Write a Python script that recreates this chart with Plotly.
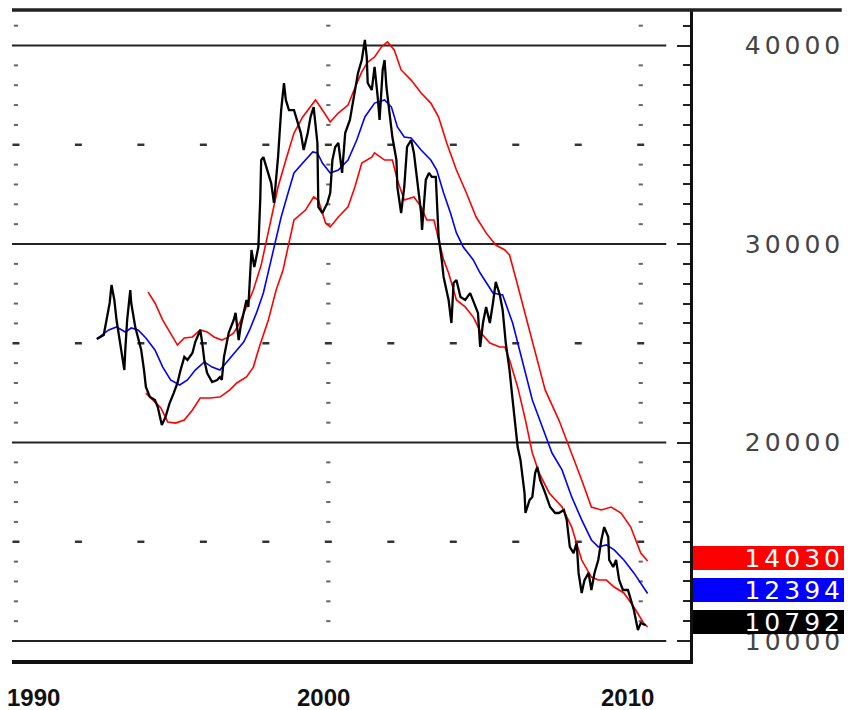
import plotly.graph_objects as go

# ---------------- data ----------------
price_years = [1992.59,1992.81,1992.90,1993.00,1993.06,1993.15,1993.22,1993.34,1993.38,1993.47,
               1993.50,1993.56,1993.66,1993.69,1993.82,1993.91,1994.01,1994.10,1994.16,1994.29,
               1994.45,1994.54,1994.67,1994.79,1994.92,1995.05,1995.17,1995.27,1995.39,1995.49,
               1995.65,1995.74,1995.90,1995.96,1996.03,1996.12,1996.28,1996.44,1996.53,1996.59,
               1996.66,1996.81,1996.97,1997.03,1997.13,1997.19,1997.29,1997.38,1997.44,1997.48,
               1997.54,1997.63,1997.76,1997.82,1997.85,1997.92,1998.08,1998.17,1998.26,1998.39,
               1998.49,1998.58,1998.64,1998.74,1998.90,1999.02,1999.12,1999.21,1999.34,1999.43,
               1999.53,1999.65,1999.68,1999.81,1999.97,2000.06,2000.13,2000.22,2000.32,2000.44,
               2000.54,2000.69,2000.85,2000.95,2001.07,2001.17,2001.23,2001.26,2001.39,2001.48,
               2001.58,2001.64,2001.74,2001.80,2001.86,2001.96,2002.05,2002.18,2002.21,2002.33,
               2002.43,2002.52,2002.65,2002.74,2002.84,2002.97,2003.00,2003.12,2003.22,2003.31,
               2003.44,2003.47,2003.53,2003.63,2003.69,2003.85,2003.94,2004.01,2004.10,2004.23,
               2004.38,2004.54,2004.70,2004.79,2004.86,2004.95,2005.05,2005.17,2005.27,2005.36,
               2005.49,2005.58,2005.68,2005.80,2005.90,2005.99,2006.06,2006.15,2006.28,2006.31,
               2006.44,2006.53,2006.62,2006.69,2006.78,2006.94,2007.10,2007.26,2007.38,2007.54,
               2007.63,2007.73,2007.85,2007.95,2008.01,2008.11,2008.20,2008.33,2008.42,2008.52,
               2008.64,2008.74,2008.83,2008.96,2008.99,2009.12,2009.21,2009.31,2009.43,2009.59,
               2009.68,2009.78,2009.91,2010.00,2010.16]
price_values = [25220,25420,26170,27030,27940,27180,26170,25010,24410,23650,
                24660,26170,27680,27030,25820,25320,24660,23650,22800,22290,
                22140,21790,20880,21290,21990,22490,23000,23650,24310,24160,
                24510,25060,25670,25060,24160,23500,23050,23150,23300,23150,
                24310,25520,26170,26530,25160,25820,26530,27180,26830,28190,
                29700,28840,29850,32220,34230,34380,33580,33070,32070,34380,
                36750,38110,37260,36750,36750,36100,35590,34740,35590,36400,
                36900,35090,31870,31560,32070,32570,34230,34890,35090,33580,
                35590,36250,37610,38620,39270,40280,39420,38110,37760,38920,
                37410,36250,38770,39270,37910,36400,35390,34230,32870,31560,
                32870,34890,35240,34590,33380,31560,30710,33230,33580,33380,
                33380,32070,30350,29200,28340,27180,26020,28040,28190,27330,
                27180,27530,26830,26530,24810,26020,26830,26020,27030,28090,
                27430,26680,25010,23650,22140,20780,19770,19120,17460,16450,
                17100,17260,18460,18770,18110,17460,16750,16450,16450,16600,
                16100,14740,14430,14940,13430,12420,13070,13430,12570,13430,
                14080,15090,15740,15240,14080,13730,14080,13070,12570,12570,
                12070,11560,10550,10910,10792]

ma_years = [1992.59,1992.97,1993.22,1993.50,1993.69,1993.91,1994.16,1994.45,1994.70,1994.95,
            1995.24,1995.49,1995.74,1996.03,1996.28,1996.53,1996.75,1997.00,1997.29,1997.48,
            1997.70,1997.92,1998.08,1998.26,1998.49,1998.71,1998.90,1999.18,1999.50,1999.65,
            1999.81,2000.06,2000.32,2000.63,2000.91,2001.17,2001.48,2001.80,2002.02,2002.21,
            2002.43,2002.65,2002.97,2003.28,2003.47,2003.69,2003.91,2004.10,2004.32,2004.64,
            2004.86,2005.27,2005.58,2005.90,2006.21,2006.53,2006.85,2007.16,2007.48,2007.79,
            2008.11,2008.42,2008.64,2008.90,2009.15,2009.46,2009.78,2010.22]
ma_values = [25220,25670,25820,25570,25770,25670,25270,24660,23800,23150,
             22900,23150,23650,24060,23800,23650,24060,24510,25060,25670,
             26530,27530,28590,29850,31360,32570,33580,34080,34640,34590,
             34080,33580,33730,34230,35240,36400,37100,37260,36900,35900,
             35390,35340,34740,34230,33730,32570,31560,30560,29850,29200,
             28540,27530,27430,26020,24160,22140,20780,19470,18620,17260,
             16100,15090,14740,14840,14590,14080,13430,12394]

upper_years = [1994.23,1994.45,1994.70,1994.95,1995.17,1995.39,1995.65,1995.90,1996.12,1996.34,
               1996.59,1996.75,1996.97,1997.16,1997.38,1997.60,1997.85,1998.11,1998.39,1998.64,
               1998.90,1999.18,1999.43,1999.59,1999.81,2000.06,2000.32,2000.63,2000.85,2001.07,
               2001.26,2001.48,2001.70,2001.89,2002.11,2002.33,2002.65,2002.97,2003.28,2003.53,
               2003.79,2004.10,2004.42,2004.73,2005.05,2005.36,2005.65,2005.80,2005.99,2006.21,
               2006.53,2006.94,2007.38,2007.79,2008.11,2008.42,2008.74,2009.05,2009.37,2009.68,
               2010.00,2010.22]
upper_values = [27580,27030,26170,25520,24910,25270,25320,25670,25570,25320,
                25160,25270,25520,26020,26830,27680,28940,30860,32870,34230,
                35590,36400,36900,37260,36750,36150,36600,37000,37860,38670,
                39170,39420,39930,40180,39780,38770,38260,37610,37100,36400,
                35090,33730,32570,31360,30560,29950,29700,29450,28340,27030,
                25010,22650,21130,19470,18110,16750,16600,16750,16450,15740,
                14430,14030]

lower_years = [1994.16,1994.45,1994.64,1994.86,1995.11,1995.39,1995.65,1995.90,1996.21,1996.53,
               1996.85,1997.07,1997.38,1997.60,1997.79,1998.08,1998.33,1998.55,1998.71,1998.90,
               1999.27,1999.53,1999.68,1999.91,2000.06,2000.32,2000.63,2000.85,2001.07,2001.39,
               2001.48,2001.80,2002.05,2002.21,2002.43,2002.74,2002.97,2003.15,2003.38,2003.53,
               2003.69,2003.85,2004.10,2004.38,2004.64,2004.89,2005.17,2005.49,2005.65,2005.80,
               2006.06,2006.31,2006.53,2006.75,2007.07,2007.48,2007.79,2008.11,2008.42,2008.64,
               2008.90,2009.15,2009.46,2009.78,2010.09,2010.22]
lower_values = [22490,22040,21740,21030,20980,21130,21640,22240,22240,22290,
                22650,23000,23300,23800,24810,26170,27680,28690,29850,31210,
                31710,32370,32220,31060,30860,31360,31870,32870,34080,34380,
                34590,34230,34230,33230,32220,32370,31870,31210,31210,30200,
                29200,28540,27180,26830,26320,25520,25010,24810,24810,24160,
                22800,21130,19470,18460,17460,16750,15740,14080,13220,13070,
                13070,12720,12420,11710,10910,10705]

y_tick_values = [10000, 20000, 30000, 40000]
x_label_years = [1990, 2000, 2010]
x_label_text = ["1990", "2000", "2010"]

# ---------------- figure ----------------
X_RANGE = [1989.874, 2011.577]
Y_RANGE = [9043, 41790]
FIG_W = 854
PLOT_W = 688

fig = go.Figure()

# dotted grid decoration
row_x, row_y = [], []
for lvl in [15000, 25000, 35000]:
    for yr in range(1990, 2011, 2):
        row_x.append(yr)
        row_y.append(lvl)
col_x, col_y = [], []
for yr in [1990, 2000, 2010]:
    for v in range(11000, 42000, 1000):
        if v % 5000 != 0:
            col_x.append(yr)
            col_y.append(v)

fig.add_trace(go.Scatter(x=col_x, y=col_y, mode="markers", hoverinfo="skip",
                         marker=dict(symbol="line-ew", size=3, color="#666",
                                     line=dict(width=2, color="#666"))))
fig.add_trace(go.Scatter(x=row_x, y=row_y, mode="markers", hoverinfo="skip",
                         marker=dict(symbol="line-ew", size=5, color="#333",
                                     line=dict(width=2.5, color="#333"))))

fig.add_trace(go.Scatter(x=upper_years, y=upper_values, mode="lines",
                         line=dict(color="#ff0000", width=1.6)))
fig.add_trace(go.Scatter(x=lower_years, y=lower_values, mode="lines",
                         line=dict(color="#ff0000", width=1.6)))
fig.add_trace(go.Scatter(x=ma_years, y=ma_values, mode="lines",
                         line=dict(color="#0000ff", width=1.6)))
fig.add_trace(go.Scatter(x=price_years, y=price_values, mode="lines",
                         line=dict(color="#000000", width=2.3)))

# major horizontal lines
for v in y_tick_values:
    fig.add_shape(type="line", xref="paper", yref="y", x0=0, x1=0.965, y0=v, y1=v,
                  line=dict(color="#222", width=2), layer="below")

# top border spanning the whole width
fig.add_shape(type="line", xref="paper", yref="paper", x0=0,
              x1=(FIG_W - 12) / PLOT_W, y0=1, y1=1,
              line=dict(color="#222", width=3.5))

spaced = "<span style='letter-spacing:4px'>{}</span>"

fig.update_layout(
    width=FIG_W, height=710,
    margin=dict(l=12, r=FIG_W - 700, t=10, b=50),
    paper_bgcolor="white", plot_bgcolor="white",
    showlegend=False,
    xaxis=dict(range=X_RANGE, showgrid=False, zeroline=False, showticklabels=False,
               ticks="", showline=True, linecolor="#111", linewidth=3.5),
    yaxis=dict(range=Y_RANGE, side="right", showgrid=False, zeroline=False,
               showline=True, linecolor="#111", linewidth=2.5,
               tickmode="array", tickvals=y_tick_values,
               ticktext=[spaced.format(v) for v in y_tick_values],
               ticks="inside", ticklen=13, tickwidth=2, tickcolor="#222",
               ticklabelstandoff=47,
               tickfont=dict(family="DejaVu Sans", size=25, color="#444"),
               minor=dict(dtick=1000, ticks="inside", ticklen=7, tickwidth=2,
                          tickcolor="#222")),
)

# year labels
for yr, txt, sh in zip(x_label_years, x_label_text, [18, -5, -13]):
    fig.add_annotation(x=yr, y=-0.057, xref="x", yref="paper", text=txt,
                       showarrow=False, xshift=sh, yanchor="middle",
                       font=dict(family="Liberation Sans", size=24, color="#111",
                                 weight="bold"))

# last-value boxes
for val, col in [(upper_values[-1], "#ff0000"), (ma_values[-1], "#0000ff"),
                 (price_values[-1], "#000000")]:
    fig.add_annotation(x=(703 - 12) / PLOT_W, y=val, xref="paper", yref="y",
                       xanchor="left", yanchor="middle", yshift=3, showarrow=False,
                       text=spaced.format(f"{val:.0f}"), width=FIG_W - 703, height=24,
                       align="right", valign="middle", bgcolor=col, borderpad=0,
                       borderwidth=0,
                       font=dict(family="DejaVu Sans", size=25, color="white"))

fig.write_html("out.html",
               config={"displayModeBar": False},
               post_script="document.documentElement.style.margin='0';"
                           "document.body.style.margin='0';"
                           "document.documentElement.style.overflow='hidden';"
                           "document.body.style.overflow='hidden';")
